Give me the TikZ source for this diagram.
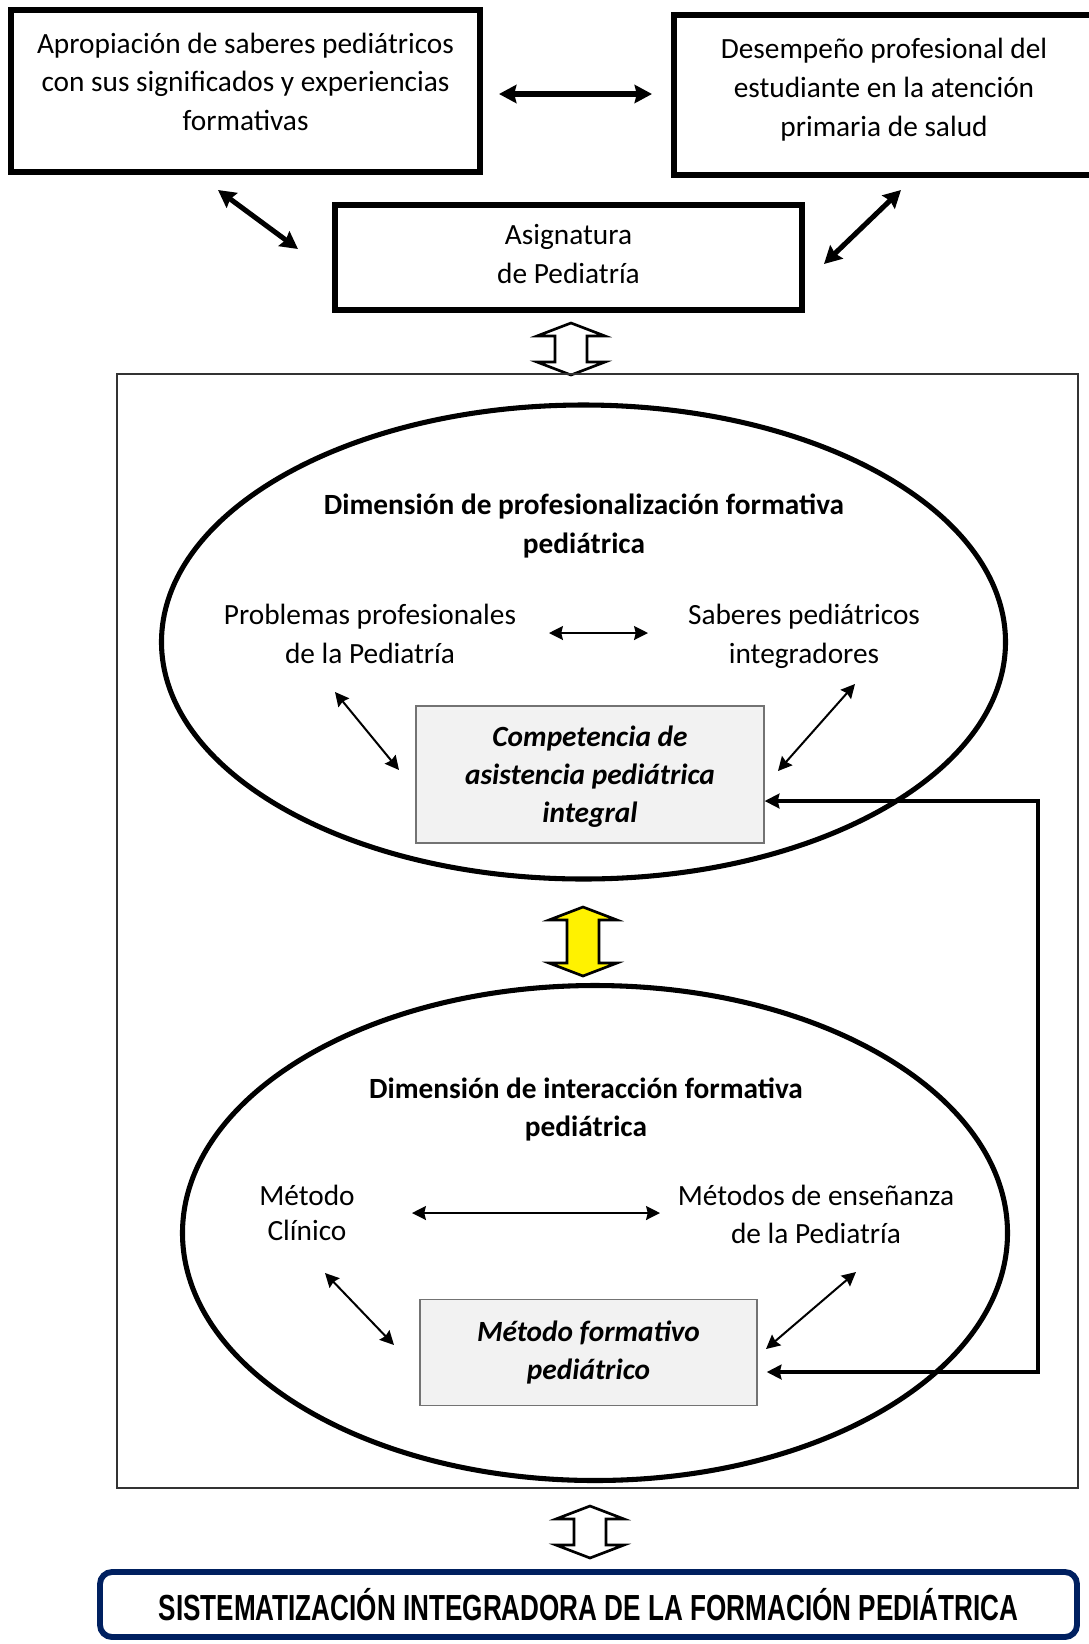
\documentclass[tikz,border=0pt]{standalone}
\usepackage{fontspec}
\setmainfont{Carlito}
\newfontfamily\capsfont[FakeStretch=0.72]{Liberation Sans}
\usetikzlibrary{shapes.geometric, arrows.meta, positioning}
\newcommand{\pu}{0.375pt}
\definecolor{framenavy}{RGB}{0,32,96}
\definecolor{keygray}{RGB}{242,242,242}
\tikzset{
  txt/.style      = {align=center, inner sep=0pt,
                     font=\fontsize{11}{14.5}\selectfont},
  title/.style    = {txt, font=\fontsize{11}{14.6}\selectfont\bfseries},
  topbox/.style   = {shape=rectangle, draw, line width=2.6pt},
  ellip/.style    = {shape=ellipse, draw, line width=1.9pt, inner sep=0pt},
  keybox/.style   = {shape=rectangle, draw=black!55, line width=0.5pt,
                     fill=keygray, txt,
                     font=\fontsize{11}{14.3}\selectfont\bfseries\itshape},
  finalbox/.style = {shape=rectangle, rounded corners=4.5pt, draw=framenavy,
                     line width=2.2pt,
                     font=\capsfont\fontsize{13.6}{16}\selectfont\bfseries},
  link/.style     = {line width=1.9pt, {Stealth[length=6.5pt,width=6.8pt,inset=0.8pt]}-{Stealth[length=6.5pt,width=6.8pt,inset=0.8pt]}},
  rel/.style      = {line width=0.75pt, {Stealth[length=5.2pt,width=5.2pt,inset=0.6pt]}-{Stealth[length=5.2pt,width=5.2pt,inset=0.6pt]}},
  feedback/.style = {line width=1.5pt, {Stealth[length=5.5pt,width=5.5pt,inset=0.6pt]}-{Stealth[length=5.5pt,width=5.5pt,inset=0.6pt]}},
  pics/dblarrow/.style = {code={
    \draw[line width=1pt, pic actions] (0,0) -- (34,13) -- (16,13) -- (16,#1-13)
      -- (34,#1-13) -- (0,#1) -- (-34,#1-13) -- (-16,#1-13) -- (-16,13)
      -- (-34,13) -- cycle;}}
}
\begin{document}
\begin{tikzpicture}[x=\pu, y=-\pu]
\useasboundingbox (0,0) rectangle (1089,1644);

% upper boxes
\node[topbox, minimum width=469*\pu, minimum height=162*\pu] (apro) at (245.5,91) {};
\node[txt] (aproT) at ([yshift=3.45pt]apro.center)
  {Apropiación de saberes pediátricos\\con sus significados y experiencias\\formativas};
\node[topbox, minimum width=420*\pu, minimum height=160*\pu] (desem) at (884,95) {};
\node[txt] (desemT) at ([yshift=2pt]desem.center)
  {Desempeño profesional del\\estudiante en la atención\\primaria de salud};
\node[topbox, minimum width=467*\pu, minimum height=105*\pu] (asig) at (568.5,257.5) {};
\node[txt] (asigT) at ([yshift=1.3pt]asig.center) {Asignatura\\de Pediatría};

\coordinate (aproE) at (499,94);
\coordinate (desemW) at (652,94);
\coordinate (aproS) at (218,190);
\coordinate (asigW) at (298,249);
\coordinate (desemS) at (901,190);
\coordinate (asigE) at (824,264);
\draw[link] (aproE) -- (desemW);
\draw[link] (aproS) -- (asigW);
\draw[link] (desemS) -- (asigE);

\pic[fill=white] at (571,323) {dblarrow=52};

% model frame
\draw[line width=0.6pt, black!80] (117,374) rectangle (1078,1488);

% dimension 1
\node[ellip, minimum width=844*\pu, minimum height=474*\pu] (dim1) at (583.5,642) {};
\node[title] (ttl1) at (584,526) {Dimensión de profesionalización formativa\\pediátrica};
\node[txt] (prob) at (370,634) {Problemas profesionales\\de la Pediatría};
\node[txt] (sab) at (804,636) {Saberes pediátricos\\integradores};
\node[keybox, minimum width=348*\pu, minimum height=137*\pu] (comp) at (590,774.5) {};
\node[txt, font=\fontsize{11}{14.3}\selectfont\bfseries\itshape] (compT) at ([yshift=-0.7pt]comp.center)
  {Competencia de\\asistencia pediátrica\\integral};

\coordinate (probE) at (549,633);
\coordinate (sabW) at (648,633);
\coordinate (probS) at (335,692);
\coordinate (compW) at (399,770);
\coordinate (sabS) at (855,684);
\coordinate (compE) at (778,771);
\draw[rel] (probE) -- (sabW);
\draw[rel] (probS) -- (compW);
\draw[rel] (sabS) -- (compE);

\pic[fill=yellow] at (583,907) {dblarrow=69};

% dimension 2
\node[ellip, minimum width=825*\pu, minimum height=495*\pu] (dim2) at (595,1233) {};
\node[title] (ttl2) at (586,1109.5) {Dimensión de interacción formativa\\pediátrica};
\node[txt, font=\fontsize{11}{13.4}\selectfont] (clin) at (307,1213) {Método\\Clínico};
\node[txt] (ens) at (816,1214.5) {Métodos de enseñanza\\de la Pediatría};
\node[keybox, minimum width=337*\pu, minimum height=106*\pu] (met) at (588.5,1352.5)
  {Método formativo\\pediátrico};

\coordinate (clinE) at (412,1213);
\coordinate (ensW) at (660,1213);
\coordinate (clinS) at (325,1273);
\coordinate (metW) at (394,1345);
\coordinate (ensS) at (856,1272);
\coordinate (metE) at (766,1349);
\draw[rel] (clinE) -- (ensW);
\draw[rel] (clinS) -- (metW);
\draw[rel] (ensS) -- (metE);

% return line
\coordinate (fbA) at (1038,801);
\coordinate (fbB) at (1038,1372);
\draw[feedback] (comp.east |- fbA) -- (fbA) -- (fbB) -- ([xshift=3.4pt]met.east |- fbB);

\pic[fill=white] at (590,1506) {dblarrow=52};

% result
\node[finalbox, minimum width=977*\pu, minimum height=65*\pu] (sist) at (588.5,1604.5)
  {SISTEMATIZACIÓN INTEGRADORA DE LA FORMACIÓN PEDIÁTRICA};
\end{tikzpicture}
\end{document}
